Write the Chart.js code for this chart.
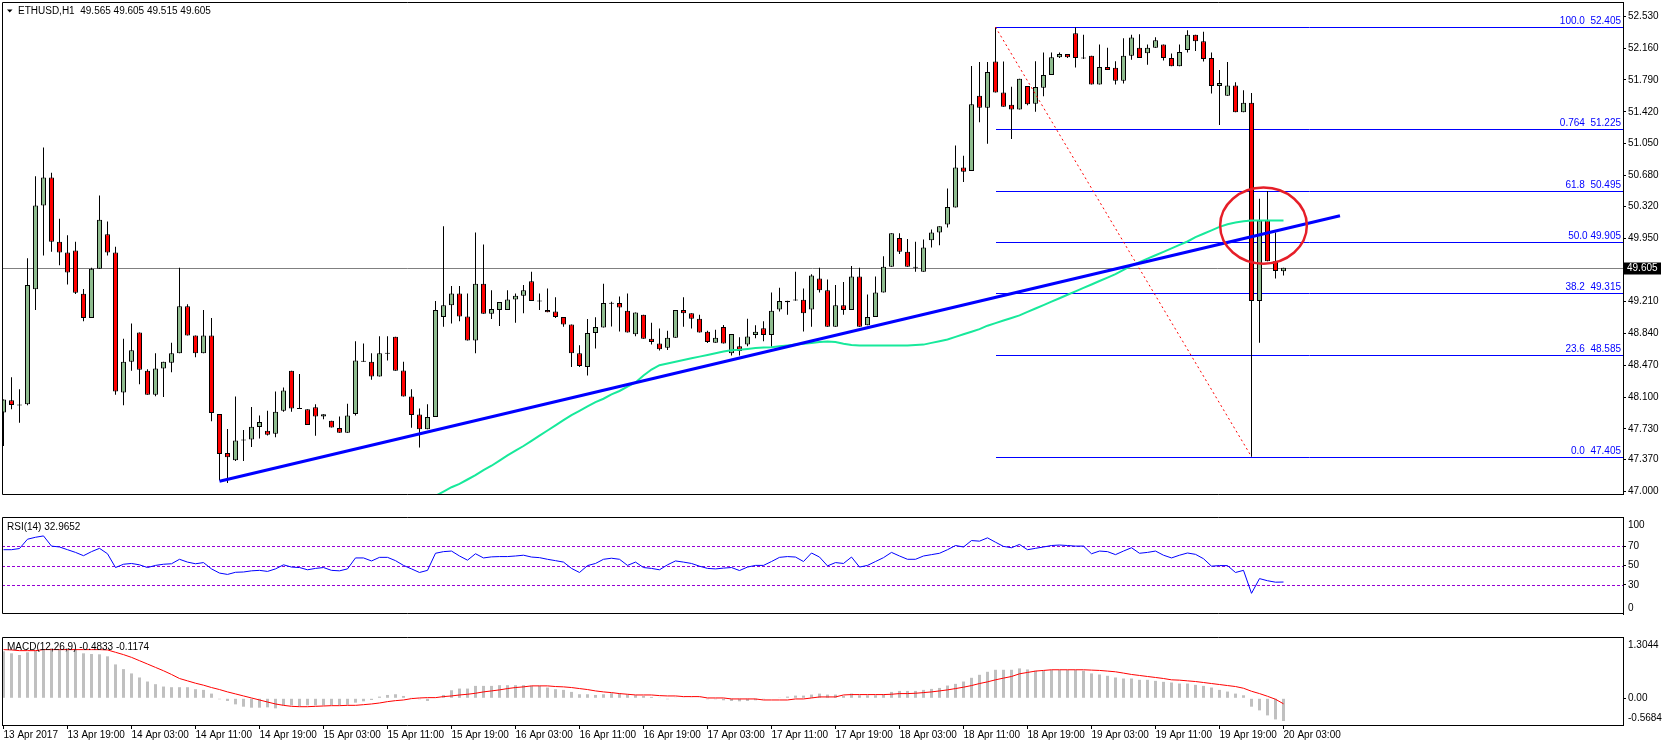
<!DOCTYPE html>
<html>
<head>
<meta charset="utf-8">
<title>ETHUSD,H1</title>
<script src="https://cdn.jsdelivr.net/npm/chart.js@4.4.1/dist/chart.umd.min.js"></script>
<style>
    html, body { margin: 0; padding: 0; background: #ffffff; }
    body { position: relative; width: 1663px; height: 746px; overflow: hidden; }
    canvas { position: absolute; left: 0; }
    #main-chart { top: 0; }
    #rsi-chart { top: 516px; }
    #macd-chart { top: 634px; }
</style>
</head>
<body>
<canvas id="main-chart" width="1663" height="518"></canvas>
<canvas id="rsi-chart" width="1663" height="120"></canvas>
<canvas id="macd-chart" width="1663" height="112"></canvas>
<script>
// candles H1 (bar 0 = 13 Apr 11:00)
var candleOpen = [
    47.92, 48.063, 48.007, 48.015, 49.355, 50.33, 50.654, 49.906, 49.783, 49.805,
    49.303, 49.02, 49.593, 49.995, 49.783, 48.152, 48.51, 48.852, 48.405, 48.126,
    48.431, 48.499, 48.61, 49.157, 48.815, 48.61, 48.815, 47.903, 47.448, 47.363,
    47.6, 47.605, 47.75, 47.706, 47.672, 47.94, 48.405, 47.966, 47.958, 47.98,
    47.873, 47.825, 47.74, 47.683, 47.903, 48.52, 48.51, 48.338, 48.61, 48.8,
    48.41, 48.107, 47.896, 47.724, 47.866, 49.031, 49.169, 49.306, 49.038, 48.759,
    49.418, 49.068, 49.113, 49.113, 49.236, 49.28, 49.448, 49.217, 49.113, 49.094,
    49.031, 48.945, 48.61, 48.45, 48.845, 48.908, 49.19, 49.195, 49.105, 48.83,
    49.057, 48.778, 48.722, 48.673, 48.789, 49.113, 49.075, 49.01, 48.86, 48.733,
    48.915, 48.61, 48.692, 48.711, 48.822, 48.9, 48.822, 49.12, 49.202, 49.23,
    49.232, 49.12, 49.478, 49.343, 48.919, 49.169, 49.113, 49.504, 48.934, 49.031,
    49.317, 49.615, 49.95, 49.79, 49.61, 49.559, 49.924, 50.014, 50.107, 50.305,
    50.77, 50.732, 51.607, 51.466, 52.005, 51.644, 51.503, 51.447, 51.719, 51.514,
    51.7, 51.849, 52.054, 52.091, 52.333, 52.046, 52.072, 51.737, 51.942, 51.931,
    51.782, 52.072, 52.166, 52.102, 52.166, 52.203, 52.046, 51.95, 52.14, 52.315,
    52.24, 52.046, 51.719, 51.607, 51.726, 51.413, 51.525, 49.217, 50.155, 49.679,
    49.565
];
var candleHigh = [
    48.07, 48.331, 48.19, 49.716, 50.669, 51.004, 50.71, 50.174, 49.984, 49.906,
    49.358, 49.604, 50.446, 50.144, 49.85, 48.778, 48.956, 48.852, 48.424, 48.61,
    48.51, 48.733, 49.604, 49.18, 48.815, 49.113, 49.02, 47.903, 47.728, 48.107,
    47.717, 47.985, 47.884, 47.94, 48.163, 48.212, 48.405, 48.368, 47.958, 48.015,
    47.9, 47.825, 47.873, 48.022, 48.748, 48.722, 48.61, 48.808, 48.808, 48.8,
    48.51, 48.19, 47.966, 48.015, 49.217, 50.088, 49.392, 49.392, 49.306, 50.014,
    49.876, 49.343, 49.206, 49.343, 49.306, 49.403, 49.559, 49.306, 49.362, 49.262,
    49.031, 48.945, 48.703, 49.008, 49.027, 49.418, 49.21, 49.269, 49.306, 49.083,
    49.057, 48.964, 48.897, 48.871, 49.113, 49.262, 49.075, 49.057, 48.871, 48.882,
    48.938, 48.834, 48.796, 49.012, 48.934, 48.982, 49.317, 49.373, 49.22, 49.559,
    49.362, 49.53, 49.604, 49.467, 49.403, 49.44, 49.626, 49.604, 49.292, 49.504,
    49.738, 50.006, 50.006, 49.939, 49.906, 49.932, 50.051, 50.088, 50.527, 51.026,
    50.907, 51.953, 51.998, 51.998, 52.405, 52.005, 51.711, 51.804, 51.719, 52.009,
    52.11, 52.11, 52.11, 52.091, 52.4, 52.315, 52.072, 52.203, 52.166, 52.009,
    52.277, 52.315, 52.322, 52.203, 52.288, 52.203, 52.099, 52.203, 52.37, 52.315,
    52.352, 52.11, 51.905, 51.998, 51.763, 51.67, 51.637, 50.408, 50.498, 50.014,
    49.605
];
var candleLow = [
    47.53, 47.958, 47.8, 48.004, 49.113, 49.746, 49.79, 49.634, 49.41, 49.299,
    48.982, 49.02, 49.593, 49.746, 48.126, 48.003, 48.405, 48.249, 48.126, 48.108,
    48.1, 48.387, 48.61, 48.815, 48.562, 48.61, 47.817, 47.13, 47.1, 47.355,
    47.355, 47.519, 47.616, 47.653, 47.631, 47.929, 47.929, 47.96, 47.773, 47.649,
    47.84, 47.744, 47.683, 47.683, 47.884, 48.51, 48.301, 48.338, 48.524, 48.405,
    48.107, 47.743, 47.512, 47.724, 47.866, 48.919, 48.956, 48.982, 48.759, 48.61,
    49.068, 49.008, 48.927, 49.113, 48.964, 49.075, 49.217, 49.113, 49.087, 49.02,
    48.919, 48.45, 48.45, 48.349, 48.666, 48.908, 48.92, 48.863, 48.852, 48.808,
    48.778, 48.71, 48.64, 48.647, 48.789, 48.919, 48.897, 48.852, 48.729, 48.733,
    48.722, 48.584, 48.584, 48.692, 48.785, 48.748, 48.684, 49.094, 49.057, 49.22,
    48.863, 48.919, 49.317, 48.919, 48.919, 49.057, 49.113, 48.919, 48.934, 49.031,
    49.317, 49.615, 49.764, 49.615, 49.559, 49.559, 49.839, 49.865, 50.073, 50.305,
    50.602, 50.732, 51.298, 51.049, 51.644, 51.477, 51.104, 51.447, 51.495, 51.421,
    51.6, 51.849, 52.046, 52.046, 51.935, 52.035, 51.737, 51.737, 51.905, 51.737,
    51.748, 52.024, 52.046, 51.968, 52.166, 52.017, 51.95, 51.95, 52.11, 52.128,
    52.005, 51.633, 51.265, 51.607, 51.413, 51.413, 47.405, 48.733, 49.679, 49.478,
    49.515
];
var candleClose = [
    48.07, 48.007, 48.007, 49.403, 50.33, 50.654, 49.906, 49.783, 49.548, 49.314,
    49.02, 49.593, 50.163, 49.783, 48.163, 48.51, 48.644, 48.416, 48.126, 48.431,
    48.51, 48.61, 49.157, 48.815, 48.61, 48.815, 47.914, 47.437, 47.4, 47.594,
    47.6, 47.754, 47.81, 47.661, 47.929, 48.175, 47.966, 47.966, 47.773, 47.873,
    47.9, 47.744, 47.683, 47.884, 48.524, 48.515, 48.338, 48.61, 48.61, 48.405,
    48.107, 47.892, 47.724, 47.866, 49.113, 49.169, 49.306, 49.038, 48.759, 49.418,
    49.068, 49.124, 49.206, 49.236, 49.28, 49.343, 49.217, 49.217, 49.087, 49.031,
    48.945, 48.61, 48.461, 48.845, 48.915, 49.195, 49.195, 49.143, 48.852, 49.083,
    48.778, 48.74, 48.655, 48.789, 49.113, 49.075, 49.01, 48.852, 48.74, 48.789,
    48.722, 48.834, 48.636, 48.804, 48.86, 48.822, 49.105, 49.217, 49.22, 49.23,
    49.075, 49.515, 49.343, 48.919, 49.169, 49.113, 49.504, 48.919, 49.031, 49.317,
    49.615, 50.006, 49.79, 49.615, 49.61, 49.839, 50.014, 50.088, 50.312, 50.77,
    50.721, 51.507, 51.466, 51.883, 51.644, 51.477, 51.447, 51.804, 51.507, 51.708,
    51.849, 52.054, 52.091, 52.054, 52.046, 52.046, 51.737, 51.942, 51.905, 51.782,
    52.072, 52.285, 52.046, 52.166, 52.251, 52.046, 51.95, 52.117, 52.315, 52.24,
    52.035, 51.719, 51.756, 51.726, 51.413, 51.525, 49.217, 50.155, 49.679, 49.567,
    49.605
];

// media movel (verde), comeca na barra maStart
var maStart = 50;
var maValues = [
    46.74, 46.79, 46.85, 46.9, 46.95, 47.0, 47.05, 47.09, 47.14, 47.19,
    47.25, 47.3, 47.36, 47.42, 47.475, 47.53, 47.59, 47.65, 47.71, 47.77,
    47.83, 47.89, 47.94, 47.99, 48.04, 48.08, 48.13, 48.17, 48.22, 48.27,
    48.35, 48.42, 48.47, 48.49, 48.51, 48.53, 48.55, 48.57, 48.59, 48.61,
    48.63, 48.645, 48.65, 48.66, 48.67, 48.675, 48.68, 48.69, 48.7, 48.71,
    48.72, 48.73, 48.74, 48.745, 48.74, 48.72, 48.705, 48.7, 48.7, 48.7,
    48.7, 48.7, 48.7, 48.7, 48.705, 48.71, 48.73, 48.75, 48.77, 48.8,
    48.83, 48.86, 48.89, 48.93, 48.96, 48.99, 49.02, 49.05, 49.09, 49.13,
    49.17, 49.21, 49.25, 49.29, 49.33, 49.37, 49.41, 49.45, 49.49, 49.53,
    49.58, 49.63, 49.67, 49.71, 49.75, 49.79, 49.83, 49.87, 49.91, 49.96,
    50.0, 50.04, 50.08, 50.11, 50.13, 50.145, 50.155, 50.155, 50.155, 50.155,
    50.155
];

// linha de tendencia azul e linha pontilhada vermelha: [barra, preco]
var trendLine = [[27, 47.12], [167.06, 50.21]];
var swingLine = [[124, 52.405], [156, 47.405]];

// Fibonacci a partir da barra 124
var fibFromBar = 124;
var fibPrices = [52.405, 51.225, 50.495, 49.905, 49.315, 48.585, 47.405];
var fibLabels = ['100.0  52.405', '0.764  51.225', '61.8  50.495', '50.0 49.905', '38.2  49.315', '23.6  48.585', '0.0  47.405'];

// circulo vermelho: centro [barra, preco], raios [barras, preco]
var ringCenter = [157.5, 50.095];
var ringRadius = [5.42, 0.443];

var priceTicks = [47.0, 47.37, 47.73, 48.1, 48.47, 48.84, 49.21, 49.95, 50.32, 50.68, 51.05, 51.42, 51.79, 52.16, 52.53];

var rsiValues = [
    66.3, 66.3, 67.5, 77.1, 79.1, 80.5, 70, 69.1, 66.3, 63.5,
    60.1, 64.3, 67.7, 62.1, 47.9, 51.3, 52.1, 50.7, 47.9, 50.1,
    51.3, 51.8, 56.4, 53.5, 51.8, 53, 46.5, 42.2, 40.8, 43,
    43.3, 44.5, 45, 43.9, 46.5, 50.7, 48.4, 47.9, 45.6, 47,
    47.9, 45, 44.5, 46.5, 57.8, 57.8, 54.7, 58.4, 58.4, 55,
    50.1, 46.5, 42.8, 45, 62.6, 64.3, 64.9, 59.8, 55.5, 62.1,
    57.8, 58.9, 59.2, 59.2, 59.8, 60.6, 58.7, 58.1, 56.4, 55,
    53.5, 47, 42.8, 49.9, 52.1, 56.4, 57.5, 56.4, 50.1, 53.5,
    47.9, 47, 45.6, 50.7, 54.7, 53.5, 52.1, 49.3, 47, 46.5,
    47.3, 47.9, 44.8, 48.4, 50.1, 50.1, 54.1, 58.4, 59.2, 58.7,
    54.1, 62.9, 58.7, 49.6, 53, 52.1, 58.7, 48.4, 50.1, 54.1,
    58.1, 63.5, 59.8, 56.4, 56.4, 59.8, 61.2, 62.6, 66.3, 70.6,
    69.1, 75.7, 75.1, 78.5, 74, 69.7, 68.3, 71.7, 66.3, 67.7,
    69.1, 70.6, 71.1, 70.6, 70, 70, 62.1, 64.9, 64.3, 61.2,
    64.9, 68.3, 62.6, 63.5, 64.9, 60.6, 57.8, 60.6, 62.9, 61.5,
    57, 49.3, 49.9, 49.9, 42.8, 45, 21.3, 36.5, 34.3, 32.8,
    32.97
];
var rsiLevels = [30, 50, 70];
var rsiTicks = [30, 50, 70];

var macdMain = [
    1.0, 0.957, 0.921, 0.979, 1.014, 1.05, 1.064, 1.05, 1.064, 1.05,
    0.957, 0.943, 0.936, 0.893, 0.721, 0.621, 0.529, 0.443, 0.357, 0.3,
    0.25, 0.236, 0.236, 0.236, 0.193, 0.179, 0.1, -0.021, -0.057, -0.129,
    -0.179, -0.2, -0.2, -0.193, -0.214, -0.15, -0.15, -0.164, -0.15, -0.15,
    -0.15, -0.143, -0.143, -0.136, -0.093, -0.064, -0.036, 0.036, 0.071, 0.086,
    0.05, 0.014, -0.021, -0.057, 0.007, 0.071, 0.171, 0.207, 0.207, 0.264,
    0.264, 0.264, 0.279, 0.279, 0.279, 0.279, 0.264, 0.264, 0.229, 0.193,
    0.179, 0.136, 0.086, 0.086, 0.071, 0.086, 0.107, 0.107, 0.079, 0.064,
    0.05, 0.029, 0.007, -0.021, 0.007, 0.014, 0.014, 0.014, -0.021, -0.021,
    -0.043, -0.057, -0.064, -0.057, -0.043, -0.021, 0.0, 0.014, 0.036, 0.057,
    0.057, 0.079, 0.1, 0.079, 0.079, 0.05, 0.1, 0.064, 0.064, 0.064,
    0.086, 0.136, 0.157, 0.157, 0.157, 0.179, 0.2, 0.221, 0.271, 0.307,
    0.357, 0.436, 0.5, 0.564, 0.607, 0.607, 0.607, 0.636, 0.614, 0.586,
    0.586, 0.6, 0.6, 0.6, 0.6, 0.586, 0.529, 0.507, 0.479, 0.443,
    0.421, 0.421, 0.393, 0.393, 0.371, 0.35, 0.336, 0.314, 0.314, 0.286,
    0.264, 0.229, 0.179, 0.143, 0.1, 0.064, -0.179, -0.257, -0.364, -0.45,
    -0.4833
];
var macdSignal = [
    1.036, 1.029, 1.014, 1.014, 1.014, 1.036, 1.036, 1.036, 1.036, 1.036,
    1.036, 1.036, 1.036, 1.029, 0.979, 0.929, 0.871, 0.8, 0.729, 0.657,
    0.586, 0.507, 0.421, 0.371, 0.321, 0.279, 0.229, 0.186, 0.136, 0.093,
    0.05, 0.007, -0.036, -0.079, -0.121, -0.15, -0.171, -0.179, -0.179, -0.171,
    -0.164, -0.157, -0.157, -0.15, -0.15, -0.136, -0.121, -0.1, -0.071, -0.05,
    -0.036, -0.007, 0.007, 0.014, 0.014, 0.036, 0.05, 0.071, 0.086, 0.107,
    0.136, 0.157, 0.179, 0.207, 0.229, 0.243, 0.264, 0.264, 0.264, 0.25,
    0.243, 0.229, 0.207, 0.186, 0.157, 0.136, 0.121, 0.1, 0.086, 0.071,
    0.071, 0.071, 0.057, 0.05, 0.05, 0.036, 0.036, 0.036, 0.007, 0.007,
    0.007, -0.014, -0.014, -0.014, -0.014, -0.036, -0.036, -0.036, -0.036, -0.014,
    -0.014, 0.007, 0.029, 0.029, 0.029, 0.071, 0.079, 0.079, 0.079, 0.079,
    0.079, 0.086, 0.1, 0.1, 0.107, 0.121, 0.136, 0.157, 0.179, 0.207,
    0.236, 0.271, 0.314, 0.35, 0.393, 0.429, 0.464, 0.521, 0.55, 0.579,
    0.593, 0.607, 0.607, 0.607, 0.607, 0.607, 0.6, 0.593, 0.579, 0.564,
    0.536, 0.507, 0.486, 0.464, 0.443, 0.421, 0.393, 0.386, 0.371, 0.357,
    0.336, 0.314, 0.293, 0.271, 0.25, 0.214, 0.15, 0.1, 0.043, -0.021,
    -0.1174
];
var macdRange = [-0.5684, 1.3044];
var macdTicks = [0];

var xTickBars = [0, 8, 16, 24, 32, 40, 48, 56, 64, 72, 80, 88, 96, 104, 112, 120, 128, 136, 144, 152, 160];
var xTickLabels = ['13 Apr 2017', '13 Apr 19:00', '14 Apr 03:00', '14 Apr 11:00', '14 Apr 19:00', '15 Apr 03:00',
    '15 Apr 11:00', '15 Apr 19:00', '16 Apr 03:00', '16 Apr 11:00', '16 Apr 19:00', '17 Apr 03:00', '17 Apr 11:00',
    '17 Apr 19:00', '18 Apr 03:00', '18 Apr 11:00', '18 Apr 19:00', '19 Apr 03:00', '19 Apr 11:00', '19 Apr 19:00',
    '20 Apr 03:00'];

// ---------------------------------------------------------------
var FONT = '10px "Liberation Sans"';
var xMin = -0.1875, xMax = 202.4375;   // 8 px por barra
var lastPrice = candleClose[candleClose.length - 1];

Chart.defaults.font.family = '"Liberation Sans", Arial, sans-serif';
Chart.defaults.font.size = 10;
Chart.defaults.color = '#000';
Chart.defaults.animation = false;

function timeAxis(show) {
    return {
        type: 'linear', display: show, min: xMin, max: xMax, offset: false,
        afterBuildTicks: function (s) { s.ticks = xTickBars.map(function (b) { return { value: b }; }); },
        afterFit: function (s) { s.height = 21; s.paddingLeft = 0; s.paddingRight = 0; },
        ticks: {
            autoSkip: false, maxRotation: 0, minRotation: 0, align: 'start', padding: 0,
            callback: function (v, i) { return xTickLabels[i]; }
        },
        grid: { offset: false, drawOnChartArea: false, drawTicks: true, tickLength: 4, color: '#000' },
        border: { color: '#000' }
    };
}

function valueAxis(min, max, tickValues, fmt) {
    return {
        type: 'linear', position: 'right', min: min, max: max, beginAtZero: false,
        afterBuildTicks: function (s) { s.ticks = tickValues.map(function (v) { return { value: v }; }); },
        afterFit: function (s) { s.width = 40; s.paddingTop = 0; s.paddingBottom = 0; },
        ticks: { autoSkip: false, padding: 2, callback: fmt },
        grid: { drawOnChartArea: false, drawTicks: true, tickLength: 3, color: '#000' },
        border: { color: '#000' }
    };
}

function writeText(ctx, str, x, y, color, align) {
    ctx.font = FONT;
    ctx.fillStyle = color;
    ctx.textAlign = align || 'left';
    ctx.textBaseline = 'middle';
    ctx.fillText(str, x, y);
}

// moldura de cada janela
function framePlugin(withBottom) {
    return {
        id: 'paneFrame',
        afterDraw: function (chart) {
            var a = chart.chartArea, ctx = chart.ctx;
            var l = Math.round(a.left) + 0.5, t = Math.round(a.top) + 0.5;
            var r = Math.round(a.right) + 0.5, b = Math.round(a.bottom) - 0.5;
            ctx.save();
            ctx.strokeStyle = '#000';
            ctx.lineWidth = 1;
            ctx.beginPath();
            ctx.moveTo(r, t); ctx.lineTo(l, t);
            if (withBottom) { ctx.lineTo(l, b); ctx.lineTo(r, b); } else { ctx.lineTo(l, a.bottom); }
            ctx.stroke();
            ctx.restore();
        }
    };
}

// ---------------- janela principal ----------------
var wickData = candleOpen.map(function (o, i) { return { x: i, y: [candleLow[i], candleHigh[i]] }; });
var bodyData = candleOpen.map(function (o, i) {
    var lo = Math.min(o, candleClose[i]), hi = Math.max(o, candleClose[i]);
    if (hi - lo < 0.012) { var m = (hi + lo) / 2; lo = m - 0.006; hi = m + 0.006; }
    return { x: i, y: [lo, hi] };
});
var bodyColors = candleOpen.map(function (o, i) { return candleClose[i] >= o ? '#8fbc8f' : '#ff0000'; });

var mainDecor = {
    id: 'mainDecor',
    beforeDatasetsDraw: function (chart) {
        var ctx = chart.ctx, a = chart.chartArea, xs = chart.scales.x, ys = chart.scales.y;
        ctx.save();
        ctx.lineWidth = 1;
        var py = Math.round(ys.getPixelForValue(lastPrice)) + 0.5;
        ctx.strokeStyle = '#808080';
        ctx.beginPath(); ctx.moveTo(a.left, py); ctx.lineTo(a.right, py); ctx.stroke();
        var fx = Math.round(xs.getPixelForValue(fibFromBar));
        ctx.strokeStyle = '#0000ff';
        fibPrices.forEach(function (p) {
            var y = Math.round(ys.getPixelForValue(p)) + 0.5;
            ctx.beginPath(); ctx.moveTo(fx, y); ctx.lineTo(a.right, y); ctx.stroke();
        });
        ctx.restore();
    },
    afterDatasetsDraw: function (chart) {
        var ctx = chart.ctx, xs = chart.scales.x, ys = chart.scales.y;
        var cx = xs.getPixelForValue(ringCenter[0]), cy = ys.getPixelForValue(ringCenter[1]);
        var rx = xs.getPixelForValue(ringCenter[0] + ringRadius[0]) - cx;
        var ry = cy - ys.getPixelForValue(ringCenter[1] + ringRadius[1]);
        ctx.save();
        ctx.strokeStyle = '#e61e28';
        ctx.lineWidth = 2.5;
        ctx.beginPath(); ctx.ellipse(cx, cy, rx, ry, 0, 0, Math.PI * 2); ctx.stroke();
        ctx.restore();
    },
    afterDraw: function (chart) {
        var ctx = chart.ctx, a = chart.chartArea, ys = chart.scales.y;
        ctx.save();
        fibPrices.forEach(function (p, i) {
            writeText(ctx, fibLabels[i], a.right - 2, Math.round(ys.getPixelForValue(p)) - 5.5, '#0000ff', 'right');
        });
        // titulo
        ctx.fillStyle = '#000';
        ctx.beginPath(); ctx.moveTo(7, 9.5); ctx.lineTo(12.5, 9.5); ctx.lineTo(9.75, 12.5); ctx.closePath(); ctx.fill();
        writeText(ctx, 'ETHUSD,H1  ' + [candleOpen[160], candleHigh[160], candleLow[160], candleClose[160]].map(function (v) { return v.toFixed(3); }).join(' '), 18, 11, '#000');
        // etiqueta do ultimo preco
        var py = Math.round(ys.getPixelForValue(lastPrice)) + 0.5;
        ctx.fillStyle = '#000';
        ctx.fillRect(a.right + 1, py - 6, 37, 12);
        writeText(ctx, lastPrice.toFixed(3), a.right + 4, py, '#fff');
        ctx.restore();
    }
};

new Chart(document.getElementById('main-chart'), {
    type: 'bar',
    data: {
        datasets: [
            { type: 'line', data: trendLine.map(function (p) { return { x: p[0], y: p[1] }; }),
              borderColor: '#0000ff', borderWidth: 3, pointRadius: 0, order: 0 },
            { type: 'line', data: swingLine.map(function (p) { return { x: p[0], y: p[1] }; }),
              borderColor: '#ff0000', borderWidth: 1, borderDash: [2, 3], pointRadius: 0, order: 1 },
            { type: 'line', data: maValues.map(function (v, k) { return { x: maStart + k, y: v }; }),
              borderColor: '#17e99b', borderWidth: 2, pointRadius: 0, order: 2 },
            { data: bodyData, backgroundColor: bodyColors, borderColor: '#000', borderWidth: 1,
              borderSkipped: false, barThickness: 5, grouped: false, inflateAmount: 0, order: 3 },
            { data: wickData, backgroundColor: '#000', borderWidth: 0, barThickness: 1,
              grouped: false, inflateAmount: 0, order: 4 }
        ]
    },
    options: {
        responsive: false,
        layout: { padding: { top: 2, bottom: 2.5, left: 2, right: 0 } },
        plugins: { legend: { display: false }, tooltip: { enabled: false } },
        scales: {
            x: timeAxis(false),
            y: valueAxis(46.9654, 52.6975, priceTicks, function (v) { return v.toFixed(3); })
        }
    },
    plugins: [mainDecor, framePlugin(true)]
});

// ---------------- RSI ----------------
var rsiDecor = {
    id: 'rsiDecor',
    beforeDatasetsDraw: function (chart) {
        var ctx = chart.ctx, a = chart.chartArea, ys = chart.scales.y;
        ctx.save();
        ctx.strokeStyle = '#9400d3';
        ctx.lineWidth = 1;
        ctx.setLineDash([3, 2]);
        rsiLevels.forEach(function (lv) {
            var y = Math.round(ys.getPixelForValue(lv)) + 0.5;
            ctx.beginPath(); ctx.moveTo(a.left, y); ctx.lineTo(a.right, y); ctx.stroke();
        });
        ctx.restore();
    },
    afterDraw: function (chart) {
        var ctx = chart.ctx, a = chart.chartArea;
        ctx.save();
        writeText(ctx, 'RSI(14) 32.9652', 7, a.top + 10, '#000');
        writeText(ctx, '100', a.right + 5, a.top + 8, '#000');
        writeText(ctx, '0', a.right + 5, a.bottom - 6, '#000');
        ctx.restore();
    }
};

new Chart(document.getElementById('rsi-chart'), {
    type: 'line',
    data: {
        datasets: [
            { data: rsiValues.map(function (v, i) { return { x: i, y: v }; }),
              borderColor: '#0000ff', borderWidth: 1, pointRadius: 0, tension: 0 }
        ]
    },
    options: {
        responsive: false,
        layout: { padding: { top: 1, bottom: 1, left: 2, right: 0 } },
        plugins: { legend: { display: false }, tooltip: { enabled: false } },
        scales: {
            x: timeAxis(false),
            y: valueAxis(0, 100, rsiTicks, function (v) { return String(v); })
        }
    },
    plugins: [rsiDecor, framePlugin(true)]
});

// ---------------- MACD ----------------
var macdDecor = {
    id: 'macdDecor',
    afterDraw: function (chart) {
        var ctx = chart.ctx, a = chart.chartArea;
        ctx.save();
        writeText(ctx, 'MACD(12,26,9) -0.4833 -0.1174', 7, a.top + 10, '#000');
        writeText(ctx, macdRange[1].toFixed(4), a.right + 5, a.top + 8, '#000');
        writeText(ctx, macdRange[0].toFixed(4), a.right + 5, a.bottom - 7, '#000');
        ctx.restore();
    }
};

new Chart(document.getElementById('macd-chart'), {
    type: 'bar',
    data: {
        datasets: [
            { type: 'line', data: macdSignal.map(function (v, i) { return { x: i, y: v }; }),
              borderColor: '#ff0000', borderWidth: 1, pointRadius: 0, tension: 0, order: 0 },
            { data: macdMain.map(function (v, i) { return { x: i, y: v }; }),
              backgroundColor: '#c0c0c0', borderWidth: 0, barThickness: 3, grouped: false,
              inflateAmount: 0, order: 1 }
        ]
    },
    options: {
        responsive: false,
        layout: { padding: { top: 3, bottom: 0, left: 2, right: 0 } },
        plugins: { legend: { display: false }, tooltip: { enabled: false } },
        scales: {
            x: timeAxis(true),
            y: valueAxis(macdRange[0], macdRange[1], macdTicks, function (v) { return v.toFixed(2); })
        }
    },
    plugins: [macdDecor, framePlugin(false)]
});
</script>
</body>
</html>
